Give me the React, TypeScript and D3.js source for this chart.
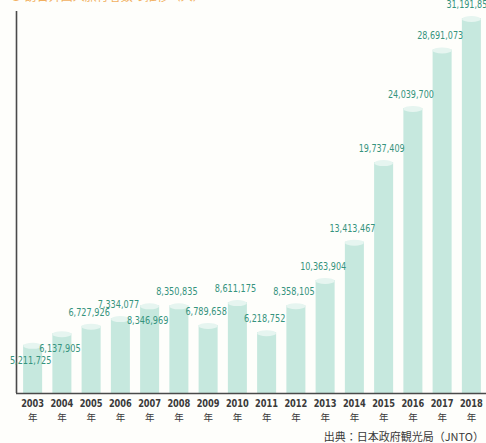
import React, { useEffect, useRef } from 'react';
import * as d3 from 'd3';

const years = ['2003', '2004', '2005', '2006', '2007', '2008', '2009', '2010', '2011', '2012', '2013', '2014', '2015', '2016', '2017', '2018'];
const visitors = [5211725, 6137905, 6727926, 7334077, 8346969, 8350835, 6789658, 8611175, 6218752, 8358105, 10363904, 13413467, 19737409, 24039700, 28691073, 31191856];
// labels that sit inside the bar instead of above it
const labelsInside = ['2003', '2004', '2007'];
const title = '● 訪日外国人旅行者数の推移（人）';
const yearSuffix = '年';
const source = '出典：日本政府観光局（JNTO）';

export default function App() {
  const svgRef = useRef<SVGSVGElement>(null);

  useEffect(() => {
    if (!svgRef.current) return;
    const svg = d3.select(svgRef.current);
    svg.selectAll('*').remove();

    const width = 486;
    const height = 443;
    const baseline = 393;
    const numFont = "'DejaVu Sans', sans-serif";
    const jpFont = "'Noto Sans CJK JP', sans-serif";

    svg.attr('width', width).attr('height', height);

    svg.append('rect').attr('width', width).attr('height', height).attr('fill', '#fefefb');

    const x = d3.scaleBand<string>()
      .domain(years)
      .range([18, 486])
      .paddingInner(0.35)
      .paddingOuter(0.175);

    const y = d3.scaleLinear()
      .domain([1380000, 31191856])
      .range([baseline, 18]);

    const data = years.map((yr, i) => ({ year: yr, value: visitors[i] }));
    const fmt = d3.format(',');

    // title (clipped at the top edge)
    svg.append('text')
      .attr('x', 10)
      .attr('y', 0.5)
      .attr('fill', '#f2b060')
      .attr('font-family', jpFont)
      .attr('font-size', 12)
      .text(title);

    // bars
    const bw = x.bandwidth();
    svg.selectAll('.bar')
      .data(data)
      .enter()
      .append('rect')
      .attr('x', d => x(d.year)!)
      .attr('y', d => y(d.value))
      .attr('width', bw)
      .attr('height', d => baseline - y(d.value))
      .attr('fill', '#c6e8de');

    // lighter cylinder top
    svg.selectAll('.cap')
      .data(data)
      .enter()
      .append('ellipse')
      .attr('cx', d => x(d.year)! + bw / 2)
      .attr('cy', d => y(d.value) + 1)
      .attr('rx', bw / 2)
      .attr('ry', 3)
      .attr('fill', '#e6f5f0');

    // axes lines
    svg.append('line')
      .attr('x1', 16.5).attr('x2', 16.5)
      .attr('y1', 11).attr('y2', baseline)
      .attr('stroke', '#4a4a4a').attr('stroke-width', 1.6);
    svg.append('line')
      .attr('x1', 16).attr('x2', width)
      .attr('y1', baseline + 0.5).attr('y2', baseline + 0.5)
      .attr('stroke', '#4a4a4a').attr('stroke-width', 1.4);

    // value labels
    svg.selectAll('.val')
      .data(data)
      .enter()
      .append('text')
      .attr('x', d => x(d.year)! + bw / 2 - 2)
      .attr('y', d => labelsInside.includes(d.year) ? y(d.value) + 19 : y(d.value) - 10)
      .attr('text-anchor', 'middle')
      .attr('fill', '#35937d')
      .attr('font-family', numFont)
      .attr('font-stretch', 'condensed')
      .attr('font-size', 10)
      .attr('textLength', d => fmt(d.value).length * 4.6)
      .attr('lengthAdjust', 'spacingAndGlyphs')
      .text(d => fmt(d.value));

    // year labels
    const ticks = svg.selectAll('.tick')
      .data(years)
      .enter()
      .append('g')
      .attr('transform', d => `translate(${x(d)! + bw / 2},0)`);
    ticks.append('text')
      .attr('y', 407)
      .attr('text-anchor', 'middle')
      .attr('fill', '#3a3a3a')
      .attr('font-family', numFont)
      .attr('font-stretch', 'condensed')
      .attr('font-weight', 700)
      .attr('font-size', 11)
      .attr('textLength', 23)
      .attr('lengthAdjust', 'spacingAndGlyphs')
      .text(d => d);
    ticks.append('text')
      .attr('y', 421)
      .attr('text-anchor', 'middle')
      .attr('fill', '#3a3a3a')
      .attr('font-family', jpFont)
      .attr('font-size', 9.5)
      .text(yearSuffix);

    // source
    svg.append('text')
      .attr('x', 484)
      .attr('y', 441)
      .attr('text-anchor', 'end')
      .attr('fill', '#3a3a3a')
      .attr('font-family', jpFont)
      .attr('font-size', 11)
      .text(source);
  }, []);

  return <svg ref={svgRef} style={{ position: 'absolute', left: 0, top: 0, display: 'block' }} />;
}
